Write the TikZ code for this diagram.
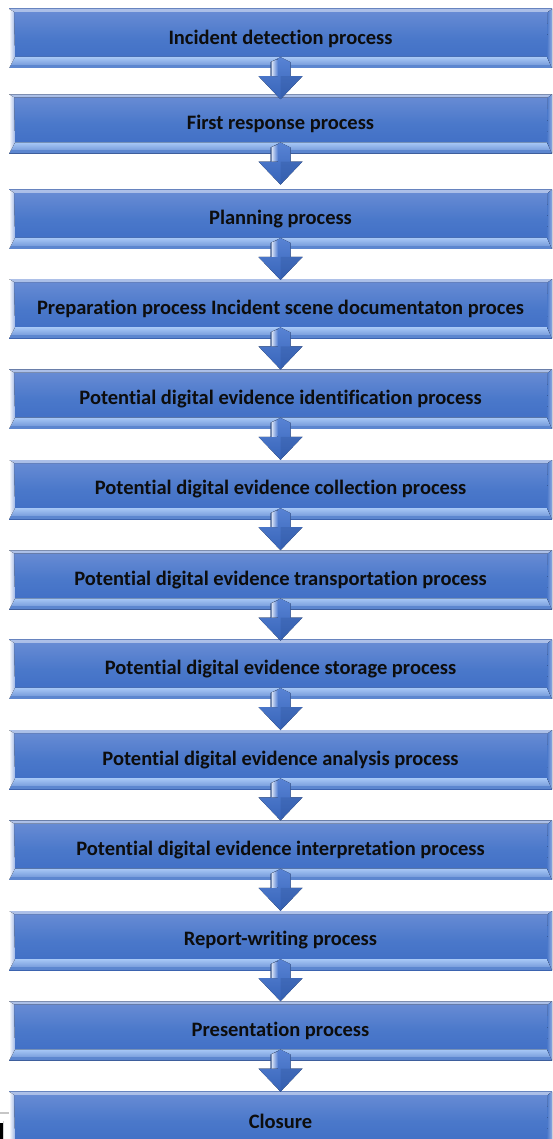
\documentclass[tikz,border=0pt]{standalone}
\usepackage{fontspec}
\setmainfont{Carlito}[Ligatures=NoCommon]
\usetikzlibrary{calc,positioning}

\definecolor{boxtop}{HTML}{6A8DD5}
\definecolor{boxmid}{HTML}{4A78CA}
\definecolor{boxbot}{HTML}{3E6CC4}
\definecolor{bevellight}{HTML}{A8C8F6}
\definecolor{beveldark}{HTML}{3461B3}
\definecolor{arrowtop}{HTML}{5883D4}
\definecolor{arrowbot}{HTML}{3764B9}
\definecolor{textblack}{HTML}{0D0D0D}

\tikzset{
    procbox/.style={
        minimum width=543pt, minimum height=59pt, inner sep=0pt,
        top color=boxtop, bottom color=boxbot, middle color=boxmid,
        font=\bfseries\fontsize{20.5}{24}\selectfont, text=textblack,
        path picture={
            % top edge
            \fill[top color=boxtop!55!white, bottom color=boxtop]
                (path picture bounding box.north west) -- (path picture bounding box.north east)
                -- ([shift={(-4pt,-3pt)}]path picture bounding box.north east)
                -- ([shift={(5pt,-3pt)}]path picture bounding box.north west) -- cycle;
            % bottom edge
            \fill[top color=bevellight, bottom color=boxmid!85!white]
                (path picture bounding box.south west) -- (path picture bounding box.south east)
                -- ([shift={(-5pt,11pt)}]path picture bounding box.south east)
                -- ([shift={(6pt,11pt)}]path picture bounding box.south west) -- cycle;
            \fill[boxmid!90!white]
                (path picture bounding box.south west) rectangle
                ([yshift=3pt]path picture bounding box.south east);
            % left edge
            \fill[left color=white, right color=boxtop!65!white]
                (path picture bounding box.south west) -- (path picture bounding box.north west)
                -- ([shift={(5pt,-3pt)}]path picture bounding box.north west)
                -- ([shift={(6pt,11pt)}]path picture bounding box.south west) -- cycle;
            % right edge
            \fill[left color=boxmid, right color=boxtop!75!white]
                (path picture bounding box.south east) -- (path picture bounding box.north east)
                -- ([shift={(-4pt,-3pt)}]path picture bounding box.north east)
                -- ([shift={(-5pt,11pt)}]path picture bounding box.south east) -- cycle;
        }
    },
}

% block arrow from the foot of one box towards the next one
\newcommand{\flowarrow}[2]{%
    \fill[top color=arrowtop, bottom color=arrowbot]
        ($(#1.south)+(0,11)$) -- ($(#1.south)+(10,6)$) -- ($(#1.south)+(10,-8)$)
        -- ($(#1.south)+(22,-8)$) -- ($(#1.south)!31pt!(#2.north)$)
        -- ($(#1.south)+(-22,-8)$) -- ($(#1.south)+(-10,-8)$)
        -- ($(#1.south)+(-10,6)$) -- cycle;
    \fill[left color=white!80!arrowtop, right color=arrowtop]
        ($(#1.south)+(-9,6.5)$) -- ($(#1.south)+(-3,9)$)
        -- ($(#1.south)+(-3,-8)$) -- ($(#1.south)+(-9,-8)$) -- cycle;
    \fill[arrowbot!85!black, opacity=0.35]
        ($(#1.south)+(0,-8)$) -- ($(#1.south)+(22,-8)$)
        -- ($(#1.south)!31pt!(#2.north)$) -- cycle;
}

\begin{document}
\begin{tikzpicture}[x=1pt, y=1pt]
    \useasboundingbox (0,0) rectangle (553,-1139);
    \clip (0,0) rectangle (553,-1139);

    \node[procbox] (detect) at (280.5,-38.5) {Incident detection process};
    \node[procbox, below=26pt of detect] (respond) {First response process};
    \node[procbox, below=36pt of respond] (plan) {Planning process};
    \node[procbox, below=30pt of plan] (prepare) {Preparation process Incident scene documentaton proces};
    \node[procbox, below=31pt of prepare] (identify) {Potential digital evidence identification process};
    \node[procbox, below=31pt of identify] (collect) {Potential digital evidence collection process};
    \node[procbox, below=31pt of collect] (transport) {Potential digital evidence transportation process};
    \node[procbox, below=30pt of transport] (store) {Potential digital evidence storage process};
    \node[procbox, below=31pt of store] (analyse) {Potential digital evidence analysis process};
    \node[procbox, below=31pt of analyse] (interpret) {Potential digital evidence interpretation process};
    \node[procbox, below=31pt of interpret] (report) {Report-writing process};
    \node[procbox, below=31pt of report] (present) {Presentation process};
    \node[procbox, below=31pt of present] (closure) {Closure};

    %%%%%%%%%%%%%%%%%%%%
    \flowarrow{detect}{respond}
    \flowarrow{respond}{plan}
    \flowarrow{plan}{prepare}
    \flowarrow{prepare}{identify}
    \flowarrow{identify}{collect}
    \flowarrow{collect}{transport}
    \flowarrow{transport}{store}
    \flowarrow{store}{analyse}
    \flowarrow{analyse}{interpret}
    \flowarrow{interpret}{report}
    \flowarrow{report}{present}
    \flowarrow{present}{closure}

    %%%%%%%%%%%%%%%%%%%%
    % page edge in the lower left corner
    \draw[gray!45, line width=1.2pt] (0,-1113) -- (9,-1113);
    \draw[gray!35] (3.5,-1121) -- (3.5,-1139);
    \fill[black] (0,-1123) rectangle (2.5,-1139);
\end{tikzpicture}
\end{document}
